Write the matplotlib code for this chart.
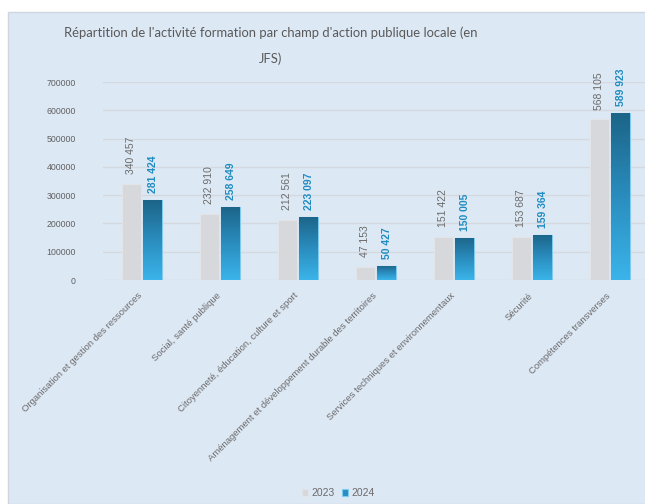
import numpy as np
import matplotlib
matplotlib.use("Agg")
import matplotlib.pyplot as plt
from matplotlib.patches import Rectangle
from matplotlib.colors import LinearSegmentedColormap

categories = [
    "Organisation et gestion des ressources",
    "Social, santé publique",
    "Citoyenneté, éducation, culture et sport",
    "Aménagement et développement durable des territoires",
    "Services techniques et environnementaux",
    "Sécurité",
    "Compétences transverses",
]
values_2023 = [340457, 232910, 212561, 47153, 151422, 153687, 568105]
values_2024 = [281424, 258649, 223097, 50427, 150005, 159364, 589923]
series_names = ["2023", "2024"]
y_ticks = [0, 100000, 200000, 300000, 400000, 500000, 600000, 700000]
title_lines = ["Répartition de l'activité formation par champ d'action publique locale (en",
               "JFS)"]

BG = "#DDE8F5"
GREY_BAR = "#D6D8DC"
GREY_TXT = "#6A6A6A"
BLUE_TXT = "#1F8CC0"
blue_grad = LinearSegmentedColormap.from_list("blue_grad", ["#3BB4EA", "#2A8DBE", "#1C6488"])

plt.rcParams["font.family"] = ["Liberation Sans", "DejaVu Sans"]

W, H = 645, 504
fig = plt.figure(figsize=(W / 100, H / 100), dpi=100)
fig.patch.set_facecolor("white")

# chart panel
fig.patches.append(Rectangle((8 / W, 0), 1, (H - 12) / H, transform=fig.transFigure,
                             facecolor=BG, edgecolor="#CFD6DE", linewidth=1.0, zorder=-10))

ax = fig.add_axes([103 / W, 1 - 280 / H, 546 / W, (280 - 82) / H])
ax.set_zorder(1)
ax.set_facecolor("none")
for s in ax.spines.values():
    s.set_visible(False)

x = np.arange(len(categories))
bw = 0.235
off = 0.135
ax.set_yticks(y_ticks)
ax.set_yticklabels([str(v) for v in y_ticks], fontsize=6.3, color="#606060")
ax.tick_params(axis="y", length=0, pad=19.5)
ax.yaxis.grid(True, color="#D4D9DF", linewidth=1.0)
ax.set_axisbelow(True)
ax.set_xticks(x)
ax.set_xticklabels([])
ax.tick_params(axis="x", length=0)

grey_bars = ax.bar(x - off, values_2023, width=bw, color=GREY_BAR,
                   edgecolor="#E2E4E7", linewidth=0.8, zorder=2, label=series_names[0])
blue_bars = ax.bar(x + off, values_2024, width=bw, color="#2A8DBE",
                   edgecolor="#7FCBEF", linewidth=0.8, zorder=2, label=series_names[1])

# vertical gradient fill inside each 2024 bar
grad = np.linspace(0, 1, 256).reshape(-1, 1)
for b in blue_bars:
    x0, w_, h_ = b.get_x(), b.get_width(), b.get_height()
    im = ax.imshow(grad, cmap=blue_grad, origin="lower", aspect="auto",
                   extent=[x0, x0 + w_, 0, h_], zorder=2.5)
    im.set_clip_path(b)

ax.set_xlim(-0.5, len(categories) - 0.5)
ax.set_ylim(0, 700000)


def fmt(v):
    return f"{v:,}".replace(",", " ")


for b, v in zip(grey_bars, values_2023):
    ax.annotate(fmt(v), (b.get_x() + b.get_width() / 2, v), xytext=(0, 7),
                textcoords="offset points", rotation=90, ha="center", va="bottom",
                fontsize=7.5, color=GREY_TXT, annotation_clip=False)
for b, v in zip(blue_bars, values_2024):
    ax.annotate(fmt(v), (b.get_x() + b.get_width() / 2, v), xytext=(0, 5),
                textcoords="offset points", rotation=90, ha="center", va="bottom",
                fontsize=7.5, color=BLUE_TXT, fontweight="bold", annotation_clip=False)

for xi, cat in zip(x, categories):
    ax.annotate(cat, (xi, 0), xytext=(-3, -8), textcoords="offset points",
                rotation=45, rotation_mode="anchor", ha="right", va="top",
                fontsize=6.8, color=GREY_TXT, annotation_clip=False)

for line, ypix in zip(title_lines, [33, 59]):
    fig.text(271 / W, 1 - ypix / H, line, ha="center", va="center", fontsize=9.4,
             color="#595959", family=["Lato", "DejaVu Sans"])

leg = fig.legend(handles=[grey_bars, blue_bars], labels=series_names,
                 loc="center", bbox_to_anchor=(338 / W, 1 - 493 / H), ncol=2,
                 frameon=False, fontsize=7.5, handlelength=0.6, handleheight=0.6,
                 handletextpad=0.3, columnspacing=0.7, labelcolor=GREY_TXT)

fig.savefig("out.png", dpi=100, facecolor="white")
